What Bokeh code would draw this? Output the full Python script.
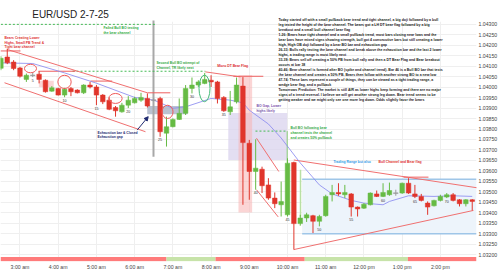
from bokeh.plotting import figure
from bokeh.models import Range1d, FixedTicker, NumeralTickFormatter, Arrow, NormalHead
from bokeh.core.properties import value
from bokeh.embed import file_html
from bokeh.resources import INLINE

# ---------------- data ----------------
bar_index = list(range(75))
opens = [1.04090, 1.04144, 1.04120, 1.04092, 1.04037, 1.04057, 1.04062, 1.04033, 1.03981, 1.03994,
         1.03962, 1.03994, 1.03986, 1.03973, 1.04010, 1.04001, 1.03962, 1.03938, 1.03903, 1.03882,
         1.03914, 1.03925, 1.03938, 1.03946, 1.03938, 1.03946, 1.03780, 1.03811, 1.03846, 1.03875,
         1.03994, 1.04010, 1.04018, 1.04033, 1.04025, 1.03951, 1.03882, 1.03930, 1.04005, 1.03732,
         1.03597, 1.03608, 1.03533, 1.03470, 1.03438, 1.03390, 1.03640, 1.03348, 1.03375, 1.03386,
         1.03359, 1.03386, 1.03486, 1.03497, 1.03486, 1.03490, 1.03427, 1.03422, 1.03438, 1.03490,
         1.03478, 1.03486, 1.03494, 1.03494, 1.03541, 1.03490, 1.03478, 1.03446, 1.03433, 1.03459,
         1.03475, 1.03486, 1.03462, 1.03443, 1.03462]
highs = [1.04148, 1.04184, 1.04129, 1.04097, 1.04065, 1.04071, 1.04076, 1.04037, 1.04005, 1.03997,
         1.03997, 1.04001, 1.03990, 1.04014, 1.04025, 1.04010, 1.03967, 1.03951, 1.03910, 1.03925,
         1.03957, 1.03954, 1.03973, 1.03970, 1.03946, 1.03954, 1.03859, 1.03851, 1.03946, 1.04010,
         1.04046, 1.04033, 1.04068, 1.04057, 1.04030, 1.03957, 1.03982, 1.04046, 1.04048, 1.03748,
         1.03751, 1.03620, 1.03565, 1.03497, 1.03549, 1.03660, 1.03644, 1.03390, 1.03400, 1.03390,
         1.03390, 1.03486, 1.03533, 1.03541, 1.03533, 1.03494, 1.03430, 1.03446, 1.03497, 1.03506,
         1.03541, 1.03544, 1.03510, 1.03544, 1.03565, 1.03533, 1.03490, 1.03454, 1.03462, 1.03486,
         1.03494, 1.03494, 1.03465, 1.03465, 1.03465]
lows = [1.04081, 1.04110, 1.04081, 1.04046, 1.04025, 1.04048, 1.04018, 1.03974, 1.03978, 1.03960,
        1.03952, 1.03957, 1.03970, 1.03967, 1.03994, 1.03914, 1.03919, 1.03890, 1.03859, 1.03878,
        1.03900, 1.03922, 1.03930, 1.03903, 1.03933, 1.03763, 1.03716, 1.03808, 1.03843, 1.03867,
        1.03970, 1.04001, 1.04014, 1.04001, 1.03922, 1.03882, 1.03867, 1.03922, 1.03438, 1.03462,
        1.03510, 1.03494, 1.03462, 1.03422, 1.03382, 1.03382, 1.03224, 1.03338, 1.03356, 1.03303,
        1.03335, 1.03381, 1.03454, 1.03481, 1.03470, 1.03382, 1.03382, 1.03418, 1.03435, 1.03475,
        1.03475, 1.03481, 1.03481, 1.03490, 1.03490, 1.03470, 1.03454, 1.03390, 1.03430, 1.03454,
        1.03470, 1.03454, 1.03430, 1.03430, 1.03411]
closes = [1.04138, 1.04116, 1.04089, 1.04052, 1.04057, 1.04056, 1.04037, 1.03978, 1.03997, 1.03962,
          1.03990, 1.03978, 1.03973, 1.04010, 1.04001, 1.03962, 1.03930, 1.03894, 1.03887, 1.03914,
          1.03938, 1.03946, 1.03951, 1.03910, 1.03937, 1.03787, 1.03811, 1.03846, 1.03875, 1.03994,
          1.04010, 1.04025, 1.04037, 1.04025, 1.03946, 1.03887, 1.03906, 1.04010, 1.03735, 1.03597,
          1.03613, 1.03529, 1.03470, 1.03443, 1.03454, 1.03637, 1.03348, 1.03375, 1.03390, 1.03359,
          1.03382, 1.03478, 1.03497, 1.03490, 1.03497, 1.03427, 1.03418, 1.03441, 1.03494, 1.03478,
          1.03497, 1.03506, 1.03493, 1.03541, 1.03494, 1.03478, 1.03459, 1.03427, 1.03459, 1.03478,
          1.03486, 1.03459, 1.03443, 1.03462, 1.03454]

ma_bars = [0, 5, 10, 15, 21, 24, 27, 29, 33, 36, 38, 39, 42, 44, 47, 50, 52, 55, 57, 60, 61, 64, 68, 71, 74]
ma_values = [1.04116, 1.04113, 1.04068, 1.04019, 1.03951, 1.03938, 1.03899, 1.03906, 1.03946, 1.03938,
             1.03925, 1.03890, 1.03824, 1.03757, 1.03638, 1.03533, 1.03490, 1.03459, 1.03446, 1.03438,
             1.03454, 1.03481, 1.03478, 1.03481, 1.03478]

numbered_bars = [5, 10, 15, 20, 25, 30, 35, 40, 45, 50, 55, 60, 65, 70]

time_tick_bars = [3, 9, 15, 21, 27, 33, 39, 45, 51, 57, 63, 69]
time_tick_labels = ["3:00 am", "4:00 am", "5:00 am", "6:00 am", "7:00 am", "8:00 am", "9:00 am",
                    "10:00 am", "11:00 am", "12:00 pm", "1:00 pm", "2:00 pm"]
price_ticks = [1.03200, 1.03250, 1.03300, 1.03350, 1.03400, 1.03450, 1.03500, 1.03550, 1.03600,
               1.03650, 1.03700, 1.03750, 1.03800, 1.03850, 1.03900, 1.03950, 1.04000, 1.04050,
               1.04100, 1.04150, 1.04200, 1.04250, 1.04300]

session_start = [-0.06, 26.0, 33.7, 47.7, 63.9]
session_end = [26.0, 33.7, 47.7, 63.9, 74.67]
session_side = ["bear", "bull", "bear", "bull", "bear"]

title_text = "EUR/USD 2-7-25"
notes = [
    "Today started off with a small pullback bear trend and tight channel, a big doji followed by a bull",
    "leg tested the height of the bear channel. The bears got a LH DT bear flag followed by a big",
    "breakout and a small bull channel bear flag",
    "1-26: Bears have tight channel and a small pullback trend, most bars closing near lows and the",
    "bear bars have mixed signs showing strength, bull got 4 consecutive bars but still creating a lower",
    "high, High OB doji followed by a bear BO bar and exhaustion gap",
    "26-33: Bulls rally testing the bear channel and break above the exhaustion bar and the last 2 lower",
    "highs, a trading range is most likely next",
    "33-39: Bears sell off creating a 50% PB from bull rally and then a DT Bear Flag and Bear breakout",
    "occurs at bar 38",
    "40-46: Bear channel is formed after BO (spike and channel trend). Bar 46 is a Bull BO bar that tests",
    "the bear channel and creates a 50% PB. Bears then follow with another strong BO to a new low",
    "47-74: These bars represent a couple of things, they can be viewed as a tight trading range, a",
    "wedge bear flag, and a pullback",
    "Tomorrows Prediction: The market is still AIR as lower highs keep forming and there are no major",
    "signs of a trend reversal. I believe we will get another strong leg down. Bear trend seems to be",
    "getting weaker and we might only see one more leg down. Odds slightly favor the bears",
]

# ---------------- styles ----------------
FONT = "Liberation Sans"
UP = "#66bb44"
DOWN = "#e0352b"
DOJI = "#9a9a9a"
RED_LINE = "#f07070"
GREEN_TXT = "#33aa44"

p = figure(width=500, height=272, output_backend="svg", toolbar_location=None,
           x_range=Range1d(-0.06, 74.67), y_range=Range1d(1.03167, 1.04414),
           y_axis_location="right",
           min_border_left=0, min_border_right=0, min_border_top=0, min_border_bottom=0)
p.outline_line_color = None
p.background_fill_color = "white"

# axes
p.yaxis.ticker = FixedTicker(ticks=price_ticks)
p.yaxis.formatter = NumeralTickFormatter(format="0.00000")
p.xaxis.ticker = FixedTicker(ticks=time_tick_bars)
p.xaxis.major_label_overrides = {b: l for b, l in zip(time_tick_bars, time_tick_labels)}
for ax in (p.xaxis, p.yaxis):
    ax.axis_line_color = None
    ax.major_tick_line_color = None
    ax.minor_tick_line_color = None
    ax.major_tick_out = 0
    ax.major_tick_in = 0
    ax.minor_tick_out = 0
    ax.minor_tick_in = 0
    ax.major_label_text_font = FONT
    ax.major_label_text_font_size = "5.2px"
    ax.major_label_text_color = "#444444"
    ax.major_label_standoff = 2
p.xgrid.grid_line_color = "#efefef"
p.ygrid.grid_line_color = "#efefef"

# white header area above the price grid
p.quad(left=[-1], right=[76], bottom=[1.04312], top=[1.045], fill_color="white", line_color=None)
p.text(x=[4.92], y=[1.04349], text=[title_text], text_font=value(FONT), text_font_size=value("10px"),
       text_color="#222222", text_align="left", text_baseline="middle")

# background zones
p.quad(left=[35.7], right=[44.95], bottom=[1.03652], top=[1.03876], fill_color="#d9d3ee", fill_alpha=0.75, line_color=None)
p.quad(left=[37.3], right=[39.45], bottom=[1.03401], top=[1.04057], fill_color="#f7b3b3", fill_alpha=0.55, line_color=None)
p.quad(left=[47.3], right=[74.67], bottom=[1.03300], top=[1.03560], fill_color="#edf4fb", fill_alpha=1.0, line_color=None)
p.segment(x0=[47.3, 47.3], y0=[1.03560, 1.03300], x1=[74.67, 74.67], y1=[1.03560, 1.03300], line_color="#9fc6e8", line_width=1.5)
p.quad(left=[22.97], right=[29.3], bottom=[1.03871], top=[1.03910], fill_color="#a9b3c5", fill_alpha=0.8, line_color=None)
p.quad(left=[5.96], right=[8.3], bottom=[1.04001], top=[1.04030], fill_color="#f9c4c4", fill_alpha=0.7, line_color=None)

# session band
p.quad(left=session_start, right=session_end, bottom=1.03168, top=1.03189,
       fill_color=["#ff7b7b" if s == "bear" else "#c7e3a9" for s in session_side], line_color=None)

# vertical grey line
p.segment(x0=[23.96], y0=[1.04319], x1=[23.96], y1=[1.03667], line_color="#a8a8a8", line_width=2)

# green dashed lines
p.segment(x0=[0, 11.25, 39.97], y0=[1.04300, 1.04076, 1.03790], x1=[24.4, 32.1, 44.95], y1=[1.04300, 1.04076, 1.03790],
          line_color="#44bb55", line_width=1, line_dash="2 2")
p.segment(x0=[44.95], y0=[1.03790], x1=[44.95], y1=[1.03638], line_color="#88cc77", line_width=1)
p.segment(x0=[47.04], y0=[1.03605], x1=[47.04], y1=[1.03381], line_color="#b9e0a4", line_width=1.5)

# red trend lines and horizontal levels
p.segment(x0=[1, 0.57, 40.13, 40.13, 45.99, 45.99, 32.1],
          y0=[1.04180, 1.04021, 1.03756, 1.03510, 1.03652, 1.03224, 1.04073],
          x1=[23.0, 22.7, 43.63, 43.54, 74.8, 74.19, 37.6],
          y1=[1.03973, 1.03787, 1.03597, 1.03380, 1.03519, 1.03411, 1.04049],
          line_color=RED_LINE, line_width=1)
p.segment(x0=[-0.06, 5.9, 14.07, 23.0, 36.5, 63.2],
          y0=[1.04173, 1.04076, 1.04029, 1.03973, 1.04052, 1.03570],
          x1=[3.08, 11.7, 17.48, 26.6, 41.2, 67.13],
          y1=[1.04173, 1.04076, 1.04029, 1.03973, 1.04052, 1.03570],
          line_color="#ee6060", line_width=1)

# moving average
p.line(ma_bars, ma_values, line_color="#8c8cf0", line_width=1, line_alpha=0.85)

# candles
colors = []
body_top, body_bot = [], []
for o, c in zip(opens, closes):
    if abs(c - o) < 0.00002:
        colors.append(DOJI)
        m = (o + c) / 2
        body_top.append(m + 0.000018)
        body_bot.append(m - 0.000018)
    else:
        colors.append(UP if c > o else DOWN)
        body_top.append(max(o, c))
        body_bot.append(min(o, c))
p.segment(x0=bar_index, y0=lows, x1=bar_index, y1=highs, line_color=colors, line_width=1)
p.vbar(x=bar_index, width=0.72, top=body_top, bottom=body_bot, fill_color=colors, line_color=colors, line_width=0.5)

# ellipses
p.ellipse(x=[4.65, 9.99, 17.99, 26.16], y=[1.04089, 1.04025, 1.03946, 1.03882],
          width=[1.88, 2.09, 2.09, 1.73], height=[0.000405, 0.000633, 0.000476, 0.000633],
          fill_color=None, line_color="#f05a5a", line_width=1)
p.ellipse(x=[31.97], y=[1.03994], width=[1.73], height=[0.00127],
          fill_color=None, line_color="#44bb77", line_width=1)

# arrow
p.add_layout(Arrow(end=NormalHead(size=4, fill_color="#1f2a70", line_color="#1f2a70"),
                   x_start=21.4, y_start=1.03795, x_end=23.13, y_end=1.03859,
                   line_color="#1f2a70", line_width=1))

# bar numbers
p.text(x=numbered_bars, y=[lows[b] for b in numbered_bars], text=[str(b) for b in numbered_bars],
       text_font=value(FONT), text_font_size=value("3.6px"), text_color="#333333",
       text_align="center", text_baseline="top", y_offset=1.5)


def note(x, y, lines, color, size="3.4px", step=0.000219):
    for k, line in enumerate(lines):
        p.text(x=[x], y=[y - k * step], text=[line], text_color=color,
               text_font=value(FONT), text_font_size=value(size), text_font_style="bold",
               text_align="left", text_baseline="middle")


note(16.1, 1.04283, ["Failed Bull BO testing", "the bear channel"], GREEN_TXT)
note(0.57, 1.04235, ["Bears Creating Lower", "Highs, Small PB Trend &", "Tight bear channel"], "#e03030")
note(24.43, 1.04114, ["Second Bull BO attempt of", "Channel, TR likely next"], GREEN_TXT)
note(33.96, 1.04101, ["Micro DT Bear Flag"], "#e03030")
note(15.17, 1.03783, ["Exhaustion bar & Closed", "Exhaustion gap"], "#1f2a70")
note(40.13, 1.03910, ["BO Gap, Lower", "highs likely"], "#7b52ab")
note(45.47, 1.03803, ["Bull BO following bear", "channel tests the channel", "and creates 50% pullback"], GREEN_TXT)
note(52.2, 1.03641, ["Trading Range but also"], "#2e9be6")
note(59.28, 1.03641, ["Bull Channel and Bear flag"], "#e03030")
note(43.58, 1.04319, notes, "#222222", size="3.5px", step=0.000238)

open("out.html", "w").write(file_html(p, INLINE))
